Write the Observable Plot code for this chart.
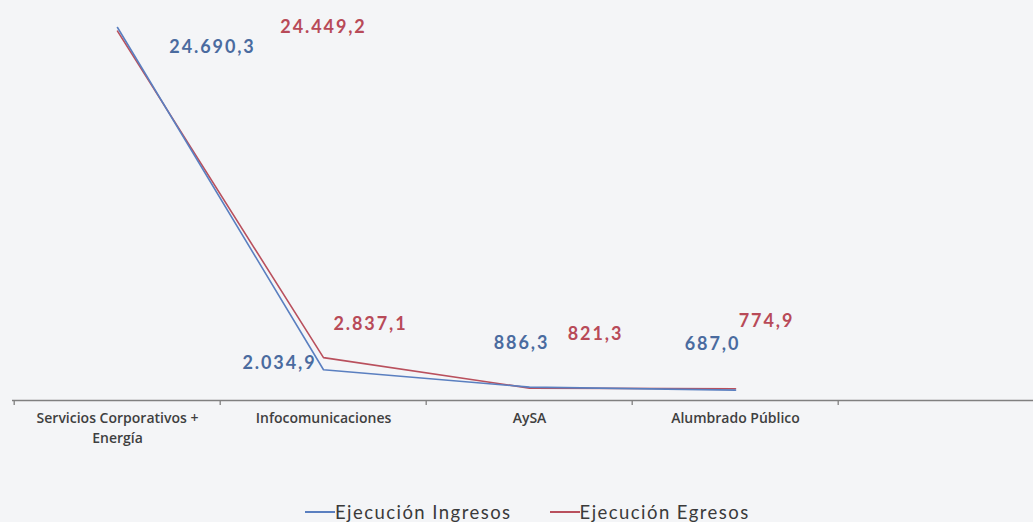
<!DOCTYPE html>
<html>
<head>
<meta charset="utf-8">
<script src="https://cdn.jsdelivr.net/npm/d3@7"></script>
<script src="https://cdn.jsdelivr.net/npm/@observablehq/plot@0.6"></script>
<style>
  html, body { margin: 0; padding: 0; background: #f4f5f7; }
  #chart svg { display: block; background: transparent; }
  g[font-size="18"] { letter-spacing: 1.9px; }
  #legend { display: flex; align-items: center; height: 42px; margin-top: 11px; padding-left: 305px;
            font-family: Lato, "Open Sans", sans-serif; font-size: 18.5px; color: #3a3a3a; letter-spacing: 1.45px; }
  #legend .item { display: flex; align-items: center; margin-right: 38px; }
  #legend .sw { width: 30px; height: 1.6px; margin-right: 0px; }
</style>
</head>
<body>
<div id="chart"></div>
<div id="legend"></div>
<script>
const categories = ["Servicios Corporativos +\nEnergía", "Infocomunicaciones", "AySA", "Alumbrado Público"];
const ingresos = [24690.3, 2034.9, 886.3, 687.0];
const egresos = [24449.2, 2837.1, 821.3, 774.9];
const seriesNames = ["Ejecución Ingresos", "Ejecución Egresos"];

const blue = "#5a7fc0", red = "#b9505d";
const blueText = "#4a6b9f", redText = "#b84a58";

const fmt = d3.formatLocale({decimal: ",", thousands: ".", grouping: [3]}).format(",.1f");

const rows = [];
categories.forEach((c, i) => {
  rows.push({cat: c, value: ingresos[i], series: seriesNames[0]});
  rows.push({cat: c, value: egresos[i], series: seriesNames[1]});
});

const W = 1033, H = 480;
const xDomain = [...categories, " "];
const bw = (W + 12 - 12) / xDomain.length;

const ingLayout = [
  {dx: 95, dy: 20, anchor: "middle"},
  {dx: -7, dy: -7, anchor: "end"},
  {dx: -8, dy: -44, anchor: "middle"},
  {dx: -23, dy: -46, anchor: "middle"}
];
const egrLayout = [
  {dx: 206, dy: -4, anchor: "middle"},
  {dx: 47, dy: -33, anchor: "middle"},
  {dx: 66, dy: -54, anchor: "middle"},
  {dx: 31, dy: -68, anchor: "middle"}
];

const labelMarks = [];
categories.forEach((c, i) => {
  labelMarks.push(Plot.text([i], {
    x: j => categories[j], y: j => ingresos[j], text: j => fmt(ingresos[j]),
    dx: ingLayout[i].dx, dy: ingLayout[i].dy, textAnchor: ingLayout[i].anchor,
    fill: blueText, fontSize: 18, fontWeight: "bold", fontFamily: "Lato, 'Open Sans', sans-serif"
  }));
  labelMarks.push(Plot.text([i], {
    x: j => categories[j], y: j => egresos[j], text: j => fmt(egresos[j]),
    dx: egrLayout[i].dx, dy: egrLayout[i].dy, textAnchor: egrLayout[i].anchor,
    fill: redText, fontSize: 18, fontWeight: "bold", fontFamily: "Lato, 'Open Sans', sans-serif"
  }));
});

const chart = Plot.plot({
  width: W,
  height: H,
  marginLeft: 12,
  marginRight: -12,
  marginTop: 27,
  marginBottom: 80,
  style: {background: "transparent", overflow: "hidden"},
  x: {type: "band", domain: xDomain, padding: 0, axis: null, label: null},
  y: {domain: [0, 24690.3], axis: null},
  color: {domain: seriesNames, range: [blue, red]},
  marks: [
    Plot.ruleY([0], {stroke: "#808080", strokeWidth: 1.3}),
    Plot.axisX({text: null, tickSize: 5, dx: -bw / 2, stroke: "#808080", strokeWidth: 1.3, label: null}),
    Plot.axisX({tickSize: 0, tickPadding: 8, fontSize: 14, fontWeight: 600, label: null,
      fontFamily: "'Open Sans', sans-serif", fill: "#3f3f3f", lineHeight: 1.45,
      tickFormat: d => d}),
    Plot.line(rows.filter(r => r.series === seriesNames[1]), {x: "cat", y: "value", stroke: "series", strokeWidth: 1.6}),
    Plot.line(rows.filter(r => r.series === seriesNames[0]), {x: "cat", y: "value", stroke: "series", strokeWidth: 1.6}),
    ...labelMarks
  ]
});
document.getElementById("chart").appendChild(chart);

const legend = document.getElementById("legend");
seriesNames.forEach((s, i) => {
  const item = document.createElement("div");
  item.className = "item";
  const sw = document.createElement("div");
  sw.className = "sw";
  sw.style.background = i === 0 ? blue : red;
  const t = document.createElement("span");
  t.textContent = s;
  item.appendChild(sw);
  item.appendChild(t);
  legend.appendChild(item);
});
</script>
</body>
</html>
